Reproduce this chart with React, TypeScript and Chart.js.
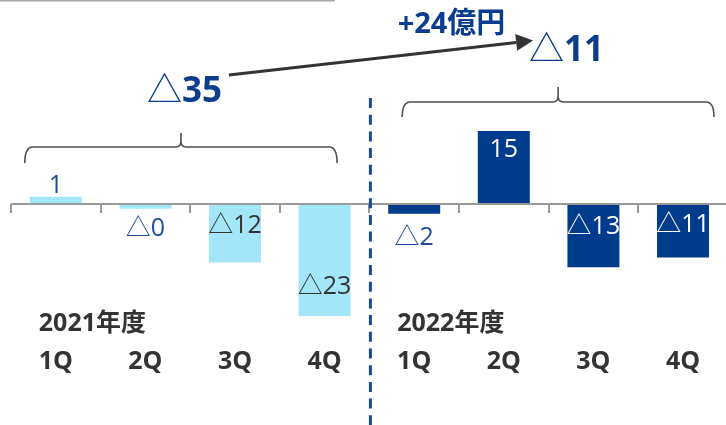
import React, { useEffect, useRef } from "react";
import { Chart, registerables } from "chart.js";

Chart.register(...registerables);

// ---- data ----
const categories = ["1Q", "2Q", "3Q", "4Q", "1Q", "2Q", "3Q", "4Q"];
const fiscalYears = ["2021年度", "2022年度"];
const values = [1.5, -1, -12, -23, -2, 15, -13, -11];
const valueLabels = ["1", "△0", "△12", "△23", "△2", "15", "△13", "△11"];
const yearTotals = ["△35", "△11"];
const changeLabel = "+24億円";

// ---- styles ----
const LIGHT = "#a3e5f9";
const DARK = "#003b8c";
const BLUE_TXT = "#0b3d8e";
const SMALL_BLUE = "#1d4c9a";
const GRAY_TXT = "#333333";
const FONT = '"Open Sans", "Noto Sans CJK JP", sans-serif';

// label placement: ref = 'end' (bar end) or 'zero' (axis), d = px downward
const labelPlacement = [
  { ref: "end", d: -13, color: SMALL_BLUE },
  { ref: "end", d: 18, color: SMALL_BLUE },
  { ref: "zero", d: 20.5, color: GRAY_TXT },
  { ref: "end", d: -31, color: GRAY_TXT },
  { ref: "end", d: 22, color: SMALL_BLUE },
  { ref: "end", d: 17, color: "#ffffff" },
  { ref: "zero", d: 21, color: "#ffffff" },
  { ref: "zero", d: 19, color: "#ffffff" },
];

function drawMixed(
  ctx: CanvasRenderingContext2D,
  text: string,
  x: number,
  cy: number,
  size: number,
  bold: boolean,
  color: string,
  align: "center" | "left" = "center"
) {
  const runs: { tri: boolean; s: string }[] = [];
  for (const ch of text) {
    const tri = ch === "△";
    const last = runs[runs.length - 1];
    if (last && last.tri === tri) last.s += ch;
    else runs.push({ tri, s: ch });
  }
  const fontFor = (tri: boolean) =>
    tri
      ? `normal ${size}px "Noto Sans CJK JP", sans-serif`
      : `${bold ? "bold" : "normal"} ${size}px ${FONT}`;
  let total = 0;
  const widths = runs.map((r) => {
    ctx.font = fontFor(r.tri);
    const w = ctx.measureText(r.s).width;
    total += w;
    return w;
  });
  let sx = align === "center" ? x - total / 2 : x;
  const base = cy + size * 0.357;
  ctx.fillStyle = color;
  ctx.textAlign = "left";
  ctx.textBaseline = "alphabetic";
  runs.forEach((r, i) => {
    ctx.font = fontFor(r.tri);
    ctx.fillText(r.s, sx, base);
    sx += widths[i];
  });
}

function brace(
  ctx: CanvasRenderingContext2D,
  x1: number,
  x2: number,
  yL: number,
  drop: number,
  rise: number
) {
  const xm = (x1 + x2) / 2;
  ctx.beginPath();
  ctx.moveTo(x1, yL + drop);
  ctx.quadraticCurveTo(x1, yL, x1 + 8, yL);
  ctx.lineTo(xm - 5, yL);
  ctx.quadraticCurveTo(xm, yL, xm, yL - 6);
  ctx.lineTo(xm, yL - rise);
  ctx.moveTo(x2, yL + drop);
  ctx.quadraticCurveTo(x2, yL, x2 - 8, yL);
  ctx.lineTo(xm + 5, yL);
  ctx.quadraticCurveTo(xm, yL, xm, yL - 6);
  ctx.stroke();
}

const overlay = {
  id: "overlay",
  afterDatasetsDraw(chart: any) {
    const ctx: CanvasRenderingContext2D = chart.ctx;
    const xs = chart.scales.x;
    const ys = chart.scales.y;
    const y0 = ys.getPixelForValue(0);
    const cx = (i: number) => xs.getPixelForValue(i);
    const step = cx(1) - cx(0);
    const n = categories.length;
    ctx.save();

    // top-left rule
    ctx.strokeStyle = "#a6a6a6";
    ctx.lineWidth = 1.5;
    ctx.beginPath();
    ctx.moveTo(0, 0.75);
    ctx.lineTo(335, 0.75);
    ctx.stroke();

    // axis line and ticks
    ctx.strokeStyle = "#999999";
    ctx.lineWidth = 2;
    ctx.beginPath();
    ctx.moveTo(xs.left, y0);
    ctx.lineTo(xs.right, y0);
    for (let i = 0; i <= n; i++) {
      const tx = Math.round(cx(0) - step / 2 + i * step);
      ctx.moveTo(tx, y0);
      ctx.lineTo(tx, y0 + 9);
    }
    ctx.stroke();

    // value labels
    values.forEach((v, i) => {
      const p = labelPlacement[i];
      const yEnd = ys.getPixelForValue(v);
      const cy = (p.ref === "end" ? yEnd : y0) + p.d;
      drawMixed(ctx, valueLabels[i], cx(i), cy, 25, false, p.color);
    });

    // quarter labels and fiscal year labels
    categories.forEach((c, i) => {
      drawMixed(ctx, c, cx(i), 360, 25, true, GRAY_TXT);
    });
    fiscalYears.forEach((fy, g) => {
      drawMixed(ctx, fy, cx(g * 4) - 17, 322, 25, true, GRAY_TXT, "left");
    });

    // dashed separator
    const sepX = cx(3) + step / 2 + 1;
    ctx.strokeStyle = "#1a4a96";
    ctx.lineWidth = 3;
    ctx.setLineDash([10, 6.7]);
    ctx.beginPath();
    ctx.moveTo(sepX, 98);
    ctx.lineTo(sepX, 425);
    ctx.stroke();
    ctx.setLineDash([]);

    // braces
    ctx.strokeStyle = "#505050";
    ctx.lineWidth = 1.6;
    const b1 = { x1: cx(0) - 31, x2: cx(3) + 12.5, yL: 147 };
    const b2 = { x1: cx(4) - 12, x2: cx(7) + 31, yL: 102 };
    brace(ctx, b1.x1, b1.x2, b1.yL, 16, 14);
    brace(ctx, b2.x1, b2.x2, b2.yL, 15, 15);

    // totals
    const t1 = { x: (b1.x1 + b1.x2) / 2 + 3.5, y: 90 };
    const t2 = { x: (b2.x1 + b2.x2) / 2 + 8.5, y: 49 };
    drawMixed(ctx, yearTotals[0], t1.x, t1.y, 35, true, BLUE_TXT);
    drawMixed(ctx, yearTotals[1], t2.x, t2.y, 35, true, BLUE_TXT);

    // arrow
    const sx = t1.x + 44.5, sy = t1.y - 15;
    const ex = t2.x - 33.5, ey = t2.y - 8.5;
    const ang = Math.atan2(ey - sy, ex - sx);
    const hl = 17, hw = 8.5;
    const bx = ex - hl * Math.cos(ang), by = ey - hl * Math.sin(ang);
    ctx.strokeStyle = "#333333";
    ctx.fillStyle = "#333333";
    ctx.lineWidth = 3;
    ctx.beginPath();
    ctx.moveTo(sx, sy);
    ctx.lineTo(bx, by);
    ctx.stroke();
    ctx.beginPath();
    ctx.moveTo(ex, ey);
    ctx.lineTo(bx + hw * Math.sin(ang), by - hw * Math.cos(ang));
    ctx.lineTo(bx - hw * Math.sin(ang), by + hw * Math.cos(ang));
    ctx.closePath();
    ctx.fill();

    drawMixed(ctx, changeLabel, 451.5, 23, 29, true, BLUE_TXT);

    ctx.restore();
  },
};

export default function App() {
  const ref = useRef<HTMLCanvasElement | null>(null);
  useEffect(() => {
    document.body.style.margin = "0";
    const canvas = ref.current!;
    const pxPerUnit = 4.87;
    const zeroY = 204;
    const chart = new Chart(canvas, {
      type: "bar",
      data: {
        labels: categories,
        datasets: [
          {
            data: values,
            backgroundColor: values.map((_, i) => (i < 4 ? LIGHT : DARK)),
            borderWidth: 0,
            barPercentage: 0.58,
            categoryPercentage: 1,
          },
        ],
      },
      options: {
        responsive: false,
        animation: false,
        devicePixelRatio: 1,
        layout: { padding: { left: 11, right: 12.2, top: 0, bottom: 0 } },
        plugins: {
          legend: { display: false },
          tooltip: { enabled: false },
          title: { display: false },
        },
        scales: {
          x: { display: false },
          y: {
            display: false,
            min: -(425 - zeroY) / pxPerUnit,
            max: zeroY / pxPerUnit,
          },
        },
      },
      plugins: [overlay],
    });
    return () => chart.destroy();
  }, []);
  return (
    <div style={{ width: 726, height: 425, overflow: "hidden", position: "relative", background: "#fff" }}>
      <canvas ref={ref} width={740} height={425} style={{ display: "block" }} />
    </div>
  );
}
